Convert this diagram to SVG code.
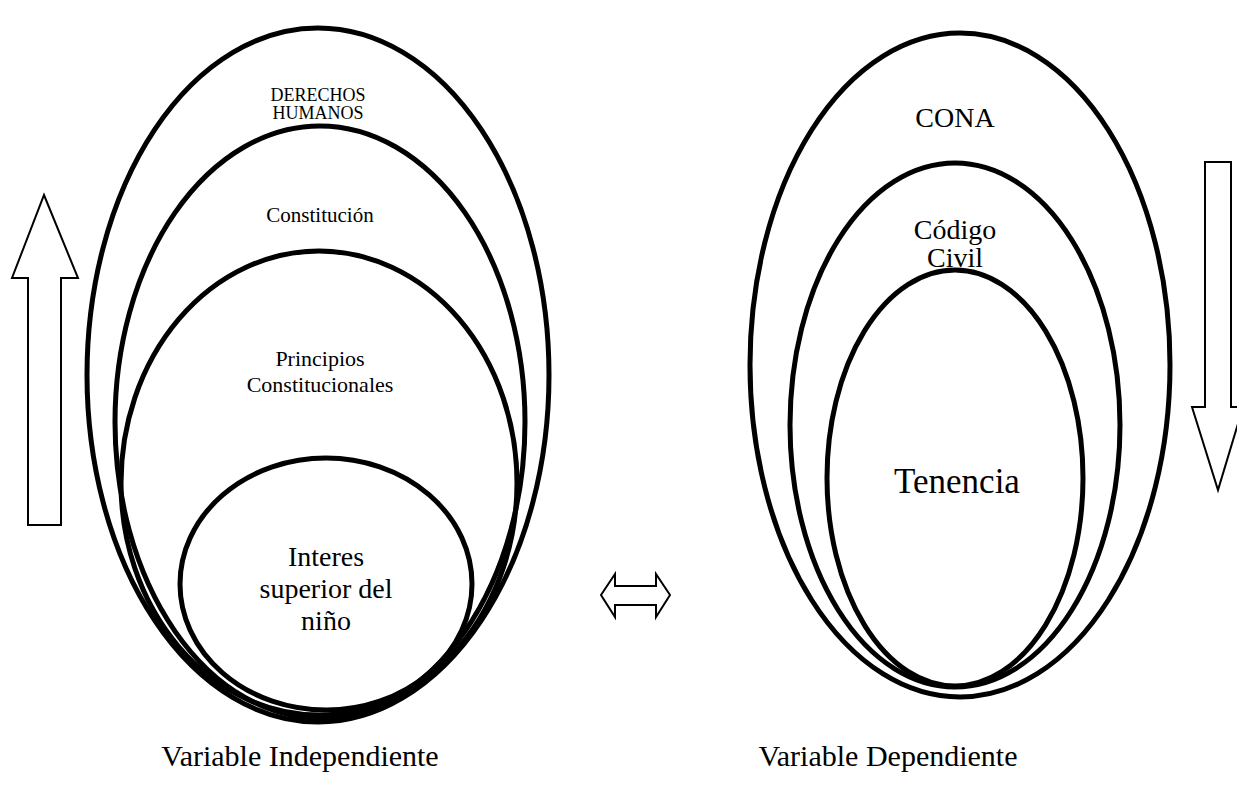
<svg xmlns="http://www.w3.org/2000/svg" width="1237" height="799" viewBox="0 0 1237 799">
<style>
.ring{fill:none;stroke:#000;stroke-width:5}
.arr{fill:#fff;stroke:#000;stroke-width:2;stroke-linejoin:miter}
text{font-family:"Liberation Serif","Times New Roman",serif;fill:#000;text-anchor:middle}
</style>
<rect width="1237" height="799" fill="#fff"/>
<g id="left-group">
<g id="derechos-humanos"><ellipse class="ring" cx="318" cy="375" rx="231" ry="347"/>
<text x="318" y="101" font-size="18">DERECHOS</text><text x="318" y="119" font-size="18">HUMANOS</text></g>
<g id="constitucion"><ellipse class="ring" cx="320" cy="422" rx="205" ry="296"/>
<text x="320" y="222" font-size="21">Constitución</text></g>
<g id="principios"><ellipse class="ring" cx="319" cy="483" rx="198" ry="232"/>
<text x="320" y="366" font-size="22">Principios</text><text x="320" y="392" font-size="22">Constitucionales</text></g>
<g id="interes"><ellipse class="ring" cx="326" cy="584" rx="146" ry="126"/>
<text x="326" y="566" font-size="28">Interes</text><text x="326" y="598" font-size="28">superior del</text><text x="326" y="630" font-size="28">niño</text></g>
</g>
<g id="right-group">
<g id="cona"><ellipse class="ring" cx="960" cy="365" rx="210" ry="332"/>
<text x="955" y="127" font-size="28">CONA</text></g>
<g id="codigo-civil"><ellipse class="ring" cx="955" cy="425" rx="165" ry="262"/>
<text x="955" y="239" font-size="28">Código</text><text x="955" y="267" font-size="28">Civil</text></g>
<g id="tenencia"><ellipse class="ring" cx="955" cy="478" rx="128" ry="208"/>
<text x="957" y="493" font-size="35">Tenencia</text></g>
</g>
<g id="connectors">
<polygon class="arr" points="44,195 78,278 61,278 61,525 28,525 28,278 12,278"/>
<polygon class="arr" points="1205,162 1231,162 1231,407 1243,407 1218,490 1192,407 1205,407"/>
<polygon class="arr" points="601,595 615,574 615,586 656,586 656,574 670,595 656,617 656,605 615,605 615,617"/>
</g>
<g id="labels">
<text x="300" y="766" font-size="30">Variable Independiente</text>
<text x="888" y="766" font-size="30">Variable Dependiente</text>
</g>
</svg>
